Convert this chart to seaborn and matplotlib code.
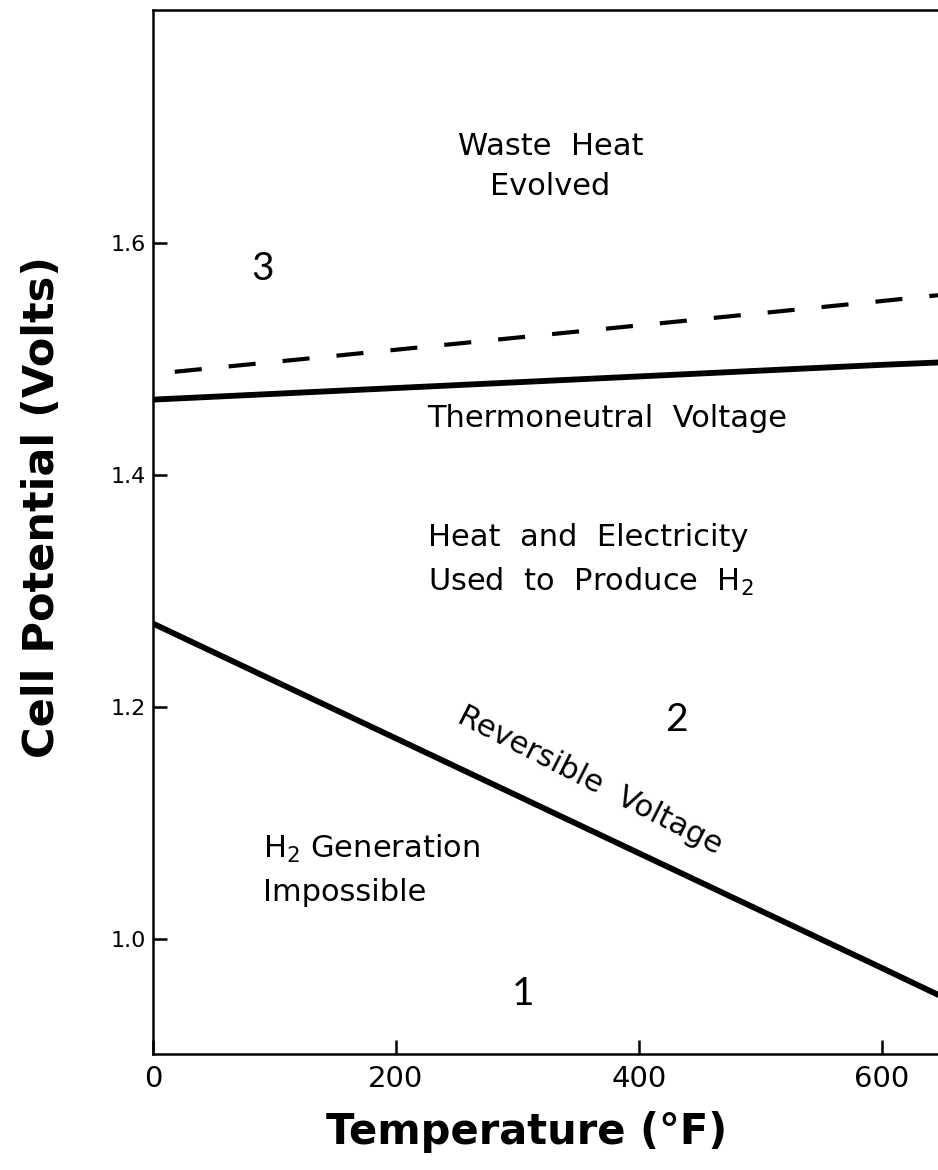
import matplotlib
matplotlib.use("Agg")
import matplotlib.pyplot as plt
import seaborn as sns
import pandas as pd

# ---- data ----
temperature_F = [0, 200, 400, 600, 646]
thermoneutral_V = [1.465, 1.475, 1.485, 1.495, 1.497]
reversible_V = [1.272, 1.173, 1.074, 0.975, 0.952]
dashed_T = [18, 200, 400, 600, 646]
dashed_V = [1.489, 1.508, 1.529, 1.550, 1.555]

x_ticks = [0, 200, 400, 600]
x_ticklabels = ["0", "200", "400", "600"]
y_ticks = [1.0, 1.2, 1.4, 1.6]
y_ticklabels = ["1.0", "1.2", "1.4", "1.6"]

sns.set_theme(style="white")
plt.rcParams['font.family'] = ['DejaVu Sans']
plt.rcParams['text.color'] = 'black'
plt.rcParams['axes.labelcolor'] = 'black'
plt.rcParams['xtick.color'] = 'black'
plt.rcParams['ytick.color'] = 'black'
plt.rcParams['xtick.direction'] = 'in'
plt.rcParams['ytick.direction'] = 'in'

fig = plt.figure(figsize=(9.38, 11.7), dpi=100)
ax = fig.add_axes([0.163, 0.0991, 0.837, 0.8924])

df_tn = pd.DataFrame({"T": temperature_F, "V": thermoneutral_V})
df_rv = pd.DataFrame({"T": temperature_F, "V": reversible_V})
df_ds = pd.DataFrame({"T": dashed_T, "V": dashed_V})

sns.lineplot(data=df_tn, x="T", y="V", ax=ax, color="black", lw=4.2)
sns.lineplot(data=df_rv, x="T", y="V", ax=ax, color="black", lw=4.2)
sns.lineplot(data=df_ds, x="T", y="V", ax=ax, color="black", lw=3.0,
             dashes=False, linestyle=(0, (6.5, 6.5)))

ax.set_xlim(0, 646)
ax.set_ylim(0.9009, 1.8009)

ax.set_xticks(x_ticks)
ax.set_xticklabels(x_ticklabels, fontsize=21, color="black")
ax.set_yticks(y_ticks)
ax.set_yticklabels(y_ticklabels, fontsize=16, color="black")
ax.xaxis.set_tick_params(direction="in", length=10, width=1.8, color="black",
                         bottom=True, pad=8)
ax.yaxis.set_tick_params(direction="in", length=10, width=1.8, color="black",
                         left=True, pad=5)

for side in ["left", "bottom", "top"]:
    ax.spines[side].set_visible(True)
    ax.spines[side].set_color("black")
    ax.spines[side].set_linewidth(1.8)
ax.spines["right"].set_visible(False)

ax.set_xlabel("Temperature (°F)", fontsize=30, fontweight="bold", color="black")
ax.set_ylabel("Cell Potential (Volts)", fontsize=31, fontweight="bold", color="black")
ax.xaxis.set_label_coords(0.476, -0.055)
ax.yaxis.set_label_coords(-0.114, 0.524)

tkw = dict(color="black", fontsize=22)
ax.text(327, 1.666, "Waste  Heat\nEvolved", ha="center", va="center",
        multialignment="center", linespacing=1.5, **tkw)
ax.text(226, 1.449, "Thermoneutral  Voltage", ha="left", va="center", **tkw)
ax.text(226, 1.3265, "Heat  and  Electricity\nUsed  to  Produce  H$_2$", ha="left",
        va="center", linespacing=1.55, **tkw)
ax.text(360, 1.137, "Reversible  Voltage", ha="center", va="center",
        rotation=-27, rotation_mode="anchor", **tkw)
ax.text(90.5, 1.0595, "H$_2$ Generation\nImpossible", ha="left", va="center",
        linespacing=1.55, **tkw)

nkw = dict(color="black", fontsize=28, family="Lato", ha="center", va="center")
ax.text(90, 1.578, "3", **nkw)
ax.text(431, 1.189, "2", **nkw)
ax.text(304.5, 0.953, "1", **nkw)

fig.savefig("out.png", dpi=100, facecolor="white")
